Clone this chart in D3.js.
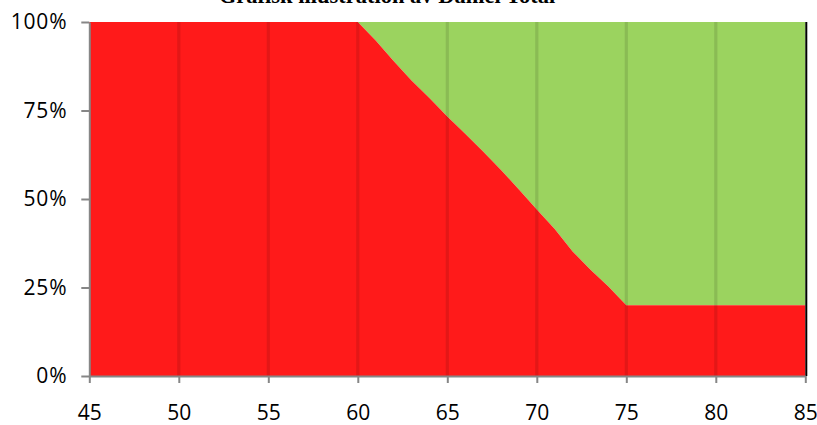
<!DOCTYPE html>
<html><head><meta charset="utf-8">
<script src="https://cdn.jsdelivr.net/npm/d3@7"></script>
<style>body{margin:0;background:#fff}svg{display:block}</style>
</head><body>
<svg id="chart" width="817" height="425"></svg>
<script>
const title = "Grafisk illustration av Daniel Total";
const ages = [45, 60, 61, 62, 63, 64, 65, 66, 67, 68, 69, 70, 71, 72, 73, 74, 75, 85];
const redShare = [100, 100, 94.8, 89, 83.5, 78.5, 73.3, 68.4, 63.4, 58.2, 52.7, 47, 41.5, 35.2, 30, 25.3, 20, 20];
const greenShare = [0, 0, 5.2, 11, 16.5, 21.5, 26.7, 31.6, 36.6, 41.8, 47.3, 53, 58.5, 64.8, 70, 74.7, 80, 80];
const xTicks = [45, 50, 55, 60, 65, 70, 75, 80, 85];
const yTicks = [0, 25, 50, 75, 100];

const svg = d3.select("#chart");
const x = d3.scaleLinear().domain([45, 85]).range([89.3, 805.3]);
const y = d3.scaleLinear().domain([0, 100]).range([376, 22]);

const rows = ages.map((a, i) => ({a, r: redShare[i], g: greenShare[i]}));

svg.append("path").datum(rows)
  .attr("fill", "#9BD35F")
  .attr("d", d3.area().x(d => x(d.a)).y0(d => y(d.r)).y1(d => y(d.r + d.g)));
svg.append("path").datum(rows)
  .attr("fill", "#FF1A1A")
  .attr("d", d3.area().x(d => x(d.a)).y0(y(0)).y1(d => y(d.r)));

// vertical gridlines
svg.append("g").selectAll("line").data(xTicks.filter(t => t > 45 && t < 85)).join("line")
  .attr("x1", d => x(d)).attr("x2", d => x(d))
  .attr("y1", y(100)).attr("y2", y(0))
  .attr("stroke", "rgba(0,0,0,0.11)").attr("stroke-width", 3.2);

// right black edge
svg.append("line")
  .attr("x1", x(85) + 1).attr("x2", x(85) + 1)
  .attr("y1", y(100)).attr("y2", y(0))
  .attr("stroke", "#000").attr("stroke-width", 2);

const font = "'Open Sans', sans-serif";

const yAxis = svg.append("g").attr("transform", `translate(${x(45)},0)`)
  .call(d3.axisLeft(y).tickValues(yTicks).tickFormat(d => d + "%").tickSize(8).tickSizeOuter(0).tickPadding(14));
const xAxis = svg.append("g").attr("transform", `translate(0,${y(0)})`)
  .call(d3.axisBottom(x).tickValues(xTicks).tickFormat(d => d).tickSize(7).tickSizeOuter(0).tickPadding(22));

[yAxis, xAxis].forEach(g => {
  g.select(".domain").attr("stroke", "#868686").attr("stroke-width", 2);
  g.selectAll(".tick line").attr("stroke", "#868686").attr("stroke-width", 2);
  g.selectAll(".tick text").attr("fill", "#000").style("font-family", font)
    .style("font-size", "21px");
});
yAxis.selectAll(".tick text").style("letter-spacing", "0.8px");

svg.append("text")
  .attr("x", 387).attr("y", 3)
  .attr("text-anchor", "middle")
  .style("font-family", "'Liberation Serif', 'Times New Roman', serif")
  .style("font-weight", "bold").style("font-size", "22.5px")
  .attr("fill", "#000")
  .text(title);
</script>
</body></html>
